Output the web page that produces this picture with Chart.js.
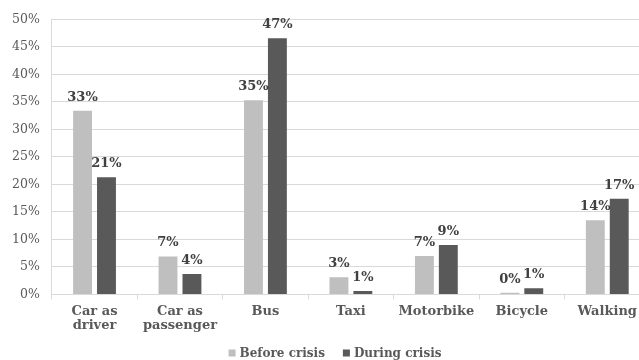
<!DOCTYPE html>
<html>
<head>
<meta charset="utf-8">
<script src="https://cdn.jsdelivr.net/npm/chart.js@4"></script>
<style>
  html, body { margin: 0; padding: 0; background: #ffffff; overflow: hidden; }
  #wrap { position: relative; width: 670px; height: 360px; }
</style>
</head>
<body>
<div id="wrap"><canvas id="chart"></canvas></div>
<script>
// Modal split before and during the crisis (% of trips)
const categories = [['Car as', 'driver'], ['Car as', 'passenger'], 'Bus', 'Taxi', 'Motorbike', 'Bicycle', 'Walking'];
const beforeCrisis = [33.4, 6.9, 35.3, 3.1, 7.0, 0.3, 13.5];
const duringCrisis = [21.3, 3.7, 46.6, 0.6, 9.0, 1.1, 17.4];
const seriesNames = ['Before crisis', 'During crisis'];
const yTicks = [0, 5, 10, 15, 20, 25, 30, 35, 40, 45, 50];

const SERIF = '"DejaVu Serif", "Liberation Serif", serif';

// Value labels drawn above each bar, rounded to whole percent
const valueLabels = {
  id: 'valueLabels',
  afterDatasetsDraw(chart) {
    const ctx = chart.ctx;
    ctx.save();
    ctx.font = 'bold 13px ' + SERIF;
    ctx.fillStyle = '#404040';
    ctx.textAlign = 'center';
    ctx.textBaseline = 'bottom';
    chart.data.datasets.forEach((ds, i) => {
      const meta = chart.getDatasetMeta(i);
      meta.data.forEach((bar, j) => {
        ctx.fillText(Math.round(ds.data[j]) + '%', bar.x, bar.y - 7);
      });
    });
    ctx.restore();
  }
};

// Compact legend row under the category labels: small square swatch + bold name
const bottomLegend = {
  id: 'bottomLegend',
  afterDraw(chart) {
    const ctx = chart.ctx;
    const box = 7, gap = 4, spacing = 18;
    ctx.save();
    ctx.font = 'bold 12px ' + SERIF;
    ctx.textBaseline = 'middle';
    ctx.textAlign = 'left';
    const items = chart.data.datasets.map(ds => ({
      text: ds.label, color: ds.backgroundColor, w: box + gap + ctx.measureText(ds.label).width
    }));
    const total = items.reduce((s, it) => s + it.w, 0) + spacing * (items.length - 1);
    let x = chart.width / 2 - total / 2;
    const y = chart.height - 7;
    items.forEach(it => {
      ctx.fillStyle = it.color;
      ctx.fillRect(x, y - box / 2, box, box);
      ctx.fillStyle = '#595959';
      ctx.fillText(it.text, x + box + gap, y + 1);
      x += it.w + spacing;
    });
    ctx.restore();
  }
};

new Chart(document.getElementById('chart'), {
  type: 'bar',
  data: {
    labels: categories,
    datasets: [
      { label: seriesNames[0], data: beforeCrisis, backgroundColor: '#bfbfbf' },
      { label: seriesNames[1], data: duringCrisis, backgroundColor: '#595959' }
    ]
  },
  plugins: [valueLabels, bottomLegend],
  options: {
    responsive: true,
    maintainAspectRatio: false,
    animation: false,
    datasets: { bar: { categoryPercentage: 0.56, barPercentage: 0.79 } },
    layout: { padding: { top: -3, left: 0, right: 20, bottom: 22 } },
    plugins: {
      tooltip: { enabled: false },
      legend: { display: false }
    },
    scales: {
      x: {
        grid: { display: true, drawOnChartArea: false, drawTicks: true, tickLength: 5, color: '#d9d9d9', offset: true },
        border: { display: true, color: '#d9d9d9' },
        ticks: {
          color: '#595959',
          padding: 5,
          maxRotation: 0,
          autoSkip: false,
          font: { family: SERIF, size: 13, weight: 'bold', lineHeight: 1.1 }
        }
      },
      y: {
        min: yTicks[0],
        max: yTicks[yTicks.length - 1],
        afterBuildTicks(scale) { scale.ticks = yTicks.map(v => ({ value: v })); },
        grid: { color: '#d9d9d9', drawTicks: false },
        border: { display: true, color: '#d9d9d9' },
        ticks: {
          color: '#595959',
          padding: 12,
          font: { family: SERIF, size: 12.5 },
          callback: v => v + '%'
        }
      }
    }
  }
});
</script>
</body>
</html>
